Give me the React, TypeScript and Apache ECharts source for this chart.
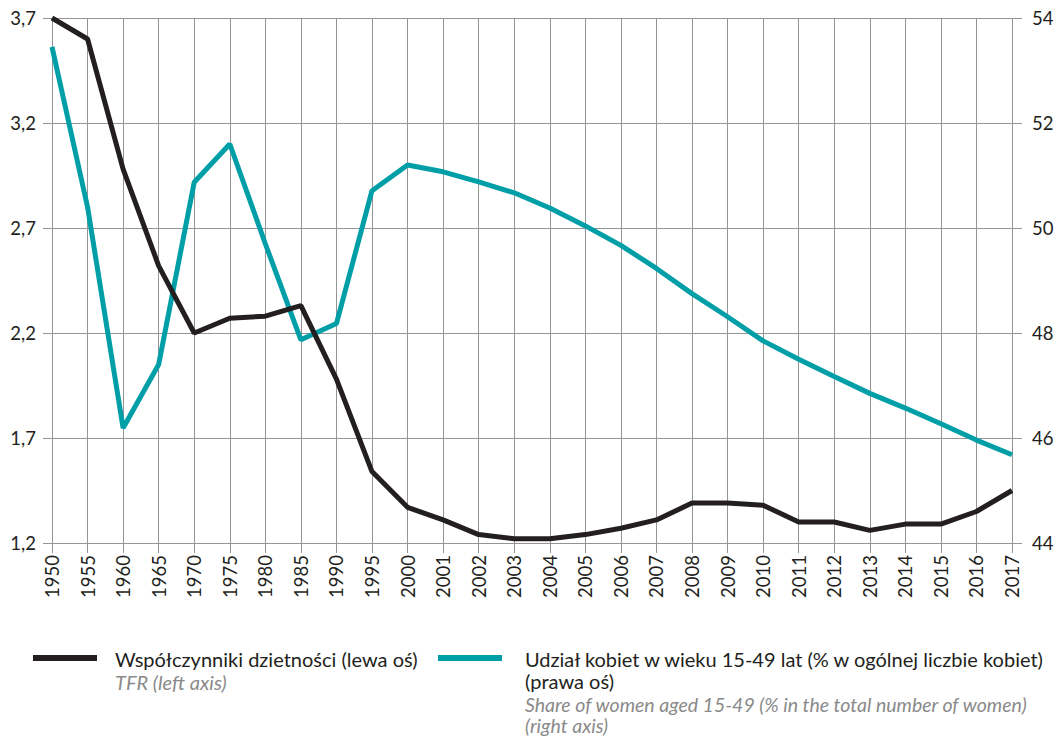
import React, { useEffect, useRef } from "react";
import * as echarts from "echarts";

const years = ["1950","1955","1960","1965","1970","1975","1980","1985","1990","1995","2000","2001","2002","2003","2004","2005","2006","2007","2008","2009","2010","2011","2012","2013","2014","2015","2016","2017"];
const tfr = [3.70,3.60,2.98,2.52,2.20,2.27,2.28,2.33,1.98,1.54,1.37,1.31,1.24,1.22,1.22,1.24,1.27,1.31,1.39,1.39,1.38,1.30,1.30,1.26,1.29,1.29,1.35,1.45];
const women = [53.45,50.40,46.19,47.40,50.87,51.60,49.70,47.87,48.18,50.71,51.20,51.07,50.88,50.67,50.38,50.04,49.67,49.23,48.75,48.31,47.85,47.50,47.17,46.85,46.57,46.27,45.96,45.68];
const tfrBase = 1.2;
const leftMax = 3.7;
const leftStep = 0.5;
const rightMin = 44;
const rightMax = 54;
const rightStep = 2;

const BLACK = "#231f20";
const TEAL = "#009fa8";
const GRID = "#949494";
const GRAY_TEXT = "#8a8a8a";
const FONT = "Lato, 'Noto Sans', sans-serif";

export default function App() {
  const ref = useRef<HTMLDivElement>(null);
  useEffect(() => {
    document.body.style.margin = "0";
    const chart = echarts.init(ref.current!, null, { renderer: "svg" });
    chart.setOption({
      animation: false,
      backgroundColor: "#ffffff",
      grid: { left: 52, right: 49, top: 18, bottom: 193, containLabel: false },
      xAxis: {
        type: "category",
        data: years,
        boundaryGap: false,
        axisLine: { show: true, lineStyle: { color: GRID, width: 1 } },
        axisTick: { show: true, length: 10, lineStyle: { color: GRID } },
        splitLine: { show: true, lineStyle: { color: GRID, width: 1 } },
        axisLabel: { rotate: 90, color: BLACK, fontSize: 18.5, fontFamily: FONT, margin: 12, interval: 0 },
      },
      yAxis: [
        {
          type: "value",
          min: 0,
          max: leftMax - tfrBase,
          interval: leftStep,
          axisLine: { show: false },
          axisTick: { show: true, length: 9, lineStyle: { color: GRID } },
          splitLine: { show: true, lineStyle: { color: GRID, width: 1 } },
          axisLabel: {
            color: BLACK, fontSize: 18.5, fontFamily: FONT, margin: 16,
            formatter: (v: number) => (v + tfrBase).toFixed(1).replace(".", ","),
          },
        },
        {
          type: "value",
          position: "right",
          min: rightMin,
          max: rightMax,
          interval: rightStep,
          axisLine: { show: false },
          axisTick: { show: true, length: 10, lineStyle: { color: GRID } },
          splitLine: { show: false },
          axisLabel: { color: BLACK, fontSize: 18.5, fontFamily: FONT, margin: 20 },
        },
      ],
      series: [
        {
          name: "Udział kobiet w wieku 15-49 lat",
          type: "line",
          yAxisIndex: 1,
          data: women,
          symbol: "none",
          lineStyle: { color: TEAL, width: 5 },
          itemStyle: { color: TEAL },
        },
        {
          name: "Współczynniki dzietności",
          type: "line",
          yAxisIndex: 0,
          data: tfr.map((v) => +(v - tfrBase).toFixed(4)),
          symbol: "none",
          lineStyle: { color: BLACK, width: 5 },
          itemStyle: { color: BLACK },
        },
      ],
      graphic: [
        { type: "line", shape: { x1: 33, y1: 658, x2: 97, y2: 658 }, style: { stroke: BLACK, lineWidth: 6 } },
        { type: "text", x: 115, y: 659, style: { text: "Współczynniki dzietności (lewa oś)", font: `20px ${FONT}`, fill: BLACK, verticalAlign: "middle" } },
        { type: "text", x: 115, y: 682, style: { text: "TFR (left axis)", font: `italic 20px ${FONT}`, fill: GRAY_TEXT, verticalAlign: "middle" } },
        { type: "line", shape: { x1: 438, y1: 658, x2: 502, y2: 658 }, style: { stroke: TEAL, lineWidth: 6 } },
        { type: "text", x: 525, y: 659, style: { text: "Udział kobiet w wieku 15-49 lat (% w ogólnej liczbie kobiet)", font: `20px ${FONT}`, fill: BLACK, verticalAlign: "middle" } },
        { type: "text", x: 525, y: 681, style: { text: "(prawa oś)", font: `20px ${FONT}`, fill: BLACK, verticalAlign: "middle" } },
        { type: "text", x: 525, y: 704, style: { text: "Share of women aged 15-49 (% in the total number of women)", font: `italic 19.5px ${FONT}`, fill: GRAY_TEXT, verticalAlign: "middle" } },
        { type: "text", x: 525, y: 725, style: { text: "(right axis)", font: `italic 19.5px ${FONT}`, fill: GRAY_TEXT, verticalAlign: "middle" } },
      ],
    });
    return () => chart.dispose();
  }, []);
  return <div ref={ref} style={{ width: 1061, height: 736 }} />;
}
